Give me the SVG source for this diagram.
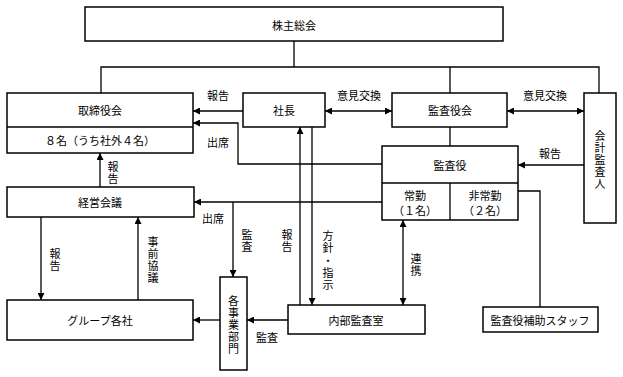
<svg xmlns="http://www.w3.org/2000/svg" width="623" height="377" viewBox="0 0 623 377">
<style>
.box{fill:#fff;stroke:#000;stroke-width:1.5}
.ln{fill:none;stroke:#000;stroke-width:1.3}
.t{font-family:"Noto Sans CJK JP","Noto Sans CJK SC",sans-serif;font-size:11px;fill:#000;text-anchor:middle;dominant-baseline:central}
</style>
<defs>
<marker id="ah" viewBox="0 0 10 10" refX="10" refY="5" markerWidth="8" markerHeight="7" markerUnits="userSpaceOnUse" orient="auto-start-reverse">
<path d="M0,0 L10,5 L0,10 z" fill="#000"/>
</marker>
</defs>
<rect width="623" height="377" fill="#fff"/>
<g id="connectors">
<path class="ln" d="M294,41 V67 M101,93 V67 H599 V93 M450,67 V93"/>
<path class="ln" d="M243,111 H193" marker-end="url(#ah)"/>
<path class="ln" d="M325,111 H392" marker-start="url(#ah)" marker-end="url(#ah)"/>
<path class="ln" d="M507,111 H584" marker-start="url(#ah)" marker-end="url(#ah)"/>
<path class="ln" d="M450,127 V146"/>
<path class="ln" d="M584,165 H518" marker-end="url(#ah)"/>
<path class="ln" d="M382,164 H238 V123 H193" marker-end="url(#ah)"/>
<path class="ln" d="M382,202 H194" marker-end="url(#ah)"/>
<path class="ln" d="M233,202 V277" marker-end="url(#ah)"/>
<path class="ln" d="M100,187 V153" marker-end="url(#ah)"/>
<path class="ln" d="M41,217 V300" marker-end="url(#ah)"/>
<path class="ln" d="M138,300 V217" marker-end="url(#ah)"/>
<path class="ln" d="M300,305 V127" marker-end="url(#ah)"/>
<path class="ln" d="M312,127 V305" marker-end="url(#ah)"/>
<path class="ln" d="M403,220 V305" marker-start="url(#ah)" marker-end="url(#ah)"/>
<path class="ln" d="M518,191 H540 V307"/>
<path class="ln" d="M288,320 H247" marker-end="url(#ah)"/>
<path class="ln" d="M220,320 H193" marker-end="url(#ah)"/>
<text class="t" x="218" y="95">報告</text>
<text class="t" x="359" y="95">意見交換</text>
<text class="t" x="545" y="95">意見交換</text>
<text class="t" x="218" y="142">出席</text>
<text class="t" x="550" y="153">報告</text>
<text class="t" x="213" y="218">出席</text>
<text class="t" x="267" y="337">監査</text>
<text class="t"><tspan x="113" y="166">報</tspan><tspan x="113" y="178">告</tspan></text>
<text class="t"><tspan x="55" y="253">報</tspan><tspan x="55" y="265">告</tspan></text>
<text class="t"><tspan x="153" y="241">事</tspan><tspan x="153" y="253">前</tspan><tspan x="153" y="265">協</tspan><tspan x="153" y="277">議</tspan></text>
<text class="t"><tspan x="247" y="234">監</tspan><tspan x="247" y="246">査</tspan></text>
<text class="t"><tspan x="287" y="234">報</tspan><tspan x="287" y="246">告</tspan></text>
<text class="t"><tspan x="328" y="235">方</tspan><tspan x="328" y="247">針</tspan><tspan x="328" y="260">・</tspan><tspan x="328" y="272">指</tspan><tspan x="328" y="284">示</tspan></text>
<text class="t"><tspan x="416" y="258">連</tspan><tspan x="416" y="270">携</tspan></text>
</g>
<g id="kabunushi"><rect class="box" x="85" y="7" width="418" height="34"/><text class="t" x="294" y="25">株主総会</text></g>
<g id="torishimariyakukai"><rect class="box" x="7" y="93" width="186" height="60"/><line class="ln" x1="7" y1="127" x2="193" y2="127"/><text class="t" x="100" y="110">取締役会</text><text class="t" x="100" y="140">８名（うち社外４名）</text></g>
<g id="shacho"><rect class="box" x="243" y="93" width="82" height="34"/><text class="t" x="284" y="110">社長</text></g>
<g id="kansayakukai"><rect class="box" x="392" y="93" width="115" height="34"/><text class="t" x="450" y="110">監査役会</text></g>
<g id="kaikeikansanin"><rect class="box" x="584" y="93" width="32" height="130"/><text class="t"><tspan x="600" y="135">会</tspan><tspan x="600" y="147">計</tspan><tspan x="600" y="159">監</tspan><tspan x="600" y="171">査</tspan><tspan x="600" y="183">人</tspan></text></g>
<g id="kansayaku"><rect class="box" x="382" y="146" width="136" height="74"/><line class="ln" x1="382" y1="183" x2="518" y2="183"/><line class="ln" x1="450" y1="183" x2="450" y2="220"/><text class="t" x="450" y="165">監査役</text><text class="t" x="415" y="195">常勤</text><text class="t" x="415" y="210">（１名）</text><text class="t" x="485" y="195">非常勤</text><text class="t" x="485" y="210">（２名）</text></g>
<g id="keieikaigi"><rect class="box" x="7" y="187" width="187" height="30"/><text class="t" x="100" y="202">経営会議</text></g>
<g id="group"><rect class="box" x="7" y="300" width="186" height="40"/><text class="t" x="100" y="320">グループ各社</text></g>
<g id="jigyobumon"><rect class="box" x="220" y="277" width="27" height="93"/><text class="t"><tspan x="233.5" y="300">各</tspan><tspan x="233.5" y="312">事</tspan><tspan x="233.5" y="324">業</tspan><tspan x="233.5" y="336">部</tspan><tspan x="233.5" y="348">門</tspan></text></g>
<g id="naibukansashitsu"><rect class="box" x="288" y="305" width="137" height="29"/><text class="t" x="356" y="320">内部監査室</text></g>
<g id="hojostaff"><rect class="box" x="483" y="307" width="115" height="25"/><text class="t" x="540" y="320">監査役補助スタッフ</text></g>
</svg>
